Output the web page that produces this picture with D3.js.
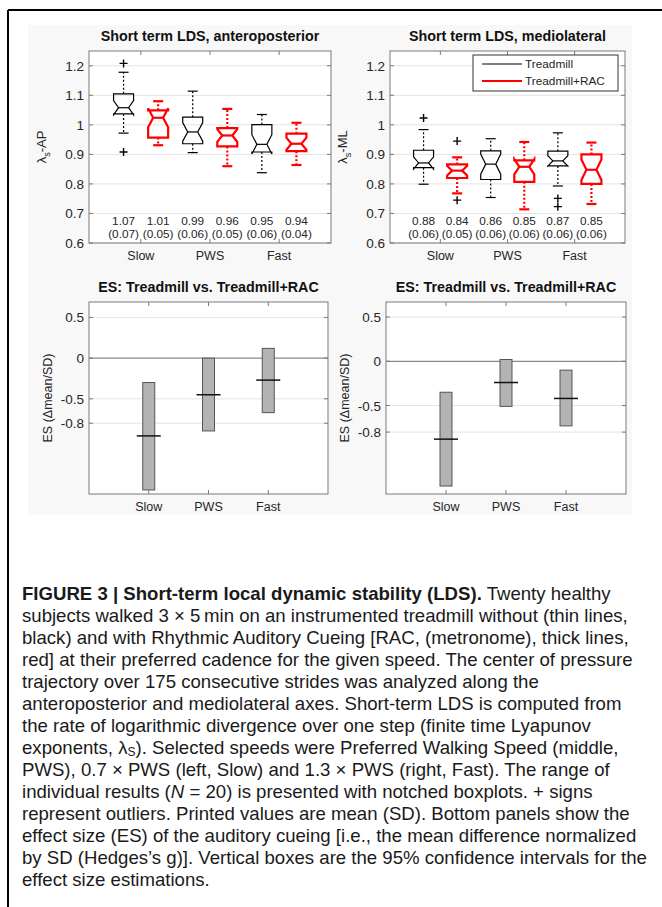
<!DOCTYPE html>
<html>
<head>
<meta charset="utf-8">
<script src="https://cdn.jsdelivr.net/npm/d3@7"></script>
<style>
  body { margin: 0; background: #fff; }
  text { font-family: "Liberation Sans", Arial, sans-serif; }
</style>
</head>
<body>
<script>
// speeds and conditions
var speeds = ["Slow", "PWS", "Fast"];
var conditions = ["Treadmill", "Treadmill+RAC"];

// boxplot stats per box: [lower whisker, q1, median, q3, upper whisker]
// order: Slow-T, Slow-RAC, PWS-T, PWS-RAC, Fast-T, Fast-RAC
var apBox = [
  [0.972, 1.037, 1.058, 1.105, 1.178],
  [0.931, 0.957, 1.024, 1.049, 1.080],
  [0.906, 0.936, 0.976, 1.026, 1.114],
  [0.860, 0.927, 0.964, 0.989, 1.054],
  [0.838, 0.908, 0.934, 1.001, 1.035],
  [0.864, 0.911, 0.936, 0.970, 1.007]
];
var apOutliers = [[1.208, 0.908], [], [], [], [], []];
var apMean = ["1.07", "1.01", "0.99", "0.96", "0.95", "0.94"];
var apSD = ["0.07", "0.05", "0.06", "0.05", "0.06", "0.04"];

var mlBox = [
  [0.799, 0.855, 0.871, 0.914, 0.984],
  [0.768, 0.820, 0.845, 0.866, 0.890],
  [0.754, 0.815, 0.867, 0.912, 0.953],
  [0.714, 0.807, 0.858, 0.880, 0.942],
  [0.793, 0.861, 0.878, 0.911, 0.973],
  [0.732, 0.800, 0.848, 0.900, 0.940]
];
var mlOutliers = [[1.023], [0.945, 0.745], [], [], [0.751, 0.723], []];
var mlMean = ["0.88", "0.84", "0.86", "0.85", "0.87", "0.85"];
var mlSD = ["0.06", "0.05", "0.06", "0.06", "0.06", "0.06"];

// effect size: [CI low, ES, CI high] per speed
var esAP = [[-1.62, -0.956, -0.30], [-0.895, -0.45, 0.0], [-0.67, -0.27, 0.12]];
var esML = [[-1.41, -0.88, -0.35], [-0.51, -0.24, 0.02], [-0.73, -0.42, -0.10]];

var lyapTicks = [0.6, 0.7, 0.8, 0.9, 1, 1.1, 1.2];
var esTicks = [0.5, 0, -0.5, -0.8];

var captionLines = [
  [["FIGURE 3 | Short-term local dynamic stability (LDS).", "b"], [" Twenty healthy"]],
  [["subjects walked 3 \u00d7 5\u2009min on an instrumented treadmill without (thin lines,"]],
  [["black) and with Rhythmic Auditory Cueing [RAC, (metronome), thick lines,"]],
  [["red] at their preferred cadence for the given speed. The center of pressure"]],
  [["trajectory over 175 consecutive strides was analyzed along the"]],
  [["anteroposterior and mediolateral axes. Short-term LDS is computed from"]],
  [["the rate of logarithmic divergence over one step (finite time Lyapunov"]],
  [["exponents, \u03bb"], ["S", "sub"], ["). Selected speeds were Preferred Walking Speed (middle,"]],
  [["PWS), 0.7 \u00d7 PWS (left, Slow) and 1.3 \u00d7 PWS (right, Fast). The range of"]],
  [["individual results ("], ["N", "i"], [" = 20) is presented with notched boxplots. + signs"]],
  [["represent outliers. Printed values are mean (SD). Bottom panels show the"]],
  [["effect size (ES) of the auditory cueing [i.e., the mean difference normalized"]],
  [["by SD (Hedges\u2019s g)]. Vertical boxes are the 95% confidence intervals for the"]],
  [["effect size estimations."]]
];

function init() {
  var W = 662, H = 907;
  var svg = d3.select("body").append("svg")
    .attr("width", W).attr("height", H);

  // frame (top and left rule)
  svg.append("line").attr("x1", 8).attr("x2", W).attr("y1", 10).attr("y2", 10)
    .attr("stroke", "#000").attr("stroke-width", 2);
  svg.append("line").attr("x1", 8).attr("x2", 8).attr("y1", 10).attr("y2", H)
    .attr("stroke", "#000").attr("stroke-width", 2);

  // figure background
  svg.append("rect").attr("x", 28).attr("y", 25).attr("width", 604).attr("height", 490)
    .attr("fill", "#f8f8f8");

  var textCol = "#262626";
  var boxCol = "#7a7a7a";

  function axesFrame(g, x0, x1, y0, y1, yScale, ticks, xTickVals, xScale, xLabels, title, zeroLine) {
    g.append("rect").attr("x", x0).attr("y", y0).attr("width", x1 - x0).attr("height", y1 - y0)
      .attr("fill", "#fff");
    // grid
    g.selectAll(".grid").data(ticks).enter().append("line")
      .attr("x1", x0).attr("x2", x1)
      .attr("y1", function(d) { return yScale(d); })
      .attr("y2", function(d) { return yScale(d); })
      .attr("stroke", function(d) { return (zeroLine && d === 0) ? "#8a8a8a" : "#e3e3e3"; })
      .attr("stroke-width", function(d) { return (zeroLine && d === 0) ? 1.2 : 1; });
    // box
    g.append("rect").attr("x", x0).attr("y", y0).attr("width", x1 - x0).attr("height", y1 - y0)
      .attr("fill", "none").attr("stroke", boxCol).attr("stroke-width", 1);
    // y ticks and labels
    var yt = g.selectAll(".ytick").data(ticks).enter().append("g");
    yt.append("line").attr("x1", x0).attr("x2", x0 + 4)
      .attr("y1", function(d) { return yScale(d); }).attr("y2", function(d) { return yScale(d); })
      .attr("stroke", boxCol);
    yt.append("line").attr("x1", x1).attr("x2", x1 - 4)
      .attr("y1", function(d) { return yScale(d); }).attr("y2", function(d) { return yScale(d); })
      .attr("stroke", boxCol);
    yt.append("text").attr("x", x0 - 5).attr("y", function(d) { return yScale(d) + 5; })
      .attr("text-anchor", "end").attr("font-size", 13.5).attr("fill", textCol)
      .text(function(d) { return d; });
    // x ticks
    var xt = g.selectAll(".xtick").data(xTickVals).enter().append("g");
    xt.append("line").attr("x1", function(d) { return xScale(d); }).attr("x2", function(d) { return xScale(d); })
      .attr("y1", y1).attr("y2", y1 - 4).attr("stroke", boxCol);
    xt.append("line").attr("x1", function(d) { return xScale(d); }).attr("x2", function(d) { return xScale(d); })
      .attr("y1", y0).attr("y2", y0 + 4).attr("stroke", boxCol);
    xt.append("text").attr("x", function(d) { return xScale(d); }).attr("y", y1 + 17)
      .attr("text-anchor", "middle").attr("font-size", 12.5).attr("fill", textCol)
      .text(function(d, i) { return xLabels[i]; });
    // title
    g.append("text").attr("x", (x0 + x1) / 2).attr("y", y0 - 10)
      .attr("text-anchor", "middle").attr("font-size", 14.3).attr("font-weight", "bold")
      .attr("fill", "#111").text(title);
    return g;
  }

  function boxPanel(x0, x1, boxes, outliers, means, sds, title, ylab, showLegend) {
    var y0 = 51, y1 = 243;
    var x = d3.scaleLinear().domain([0, 7]).range([x0, x1]);
    var y = d3.scaleLinear().domain([0.6, 1.25]).range([y1, y0]);
    var g = svg.append("g");
    axesFrame(g, x0, x1, y0, y1, y, lyapTicks, [1.5, 3.5, 5.5], x, speeds, title, false);

    // y label with subscript
    var lx = x0 - 43, ly = (y0 + y1) / 2;
    var yl = g.append("text").attr("transform", "translate(" + lx + "," + ly + ") rotate(-90)")
      .attr("text-anchor", "middle").attr("font-size", 13).attr("fill", textCol);
    yl.append("tspan").text("\u03bb");
    yl.append("tspan").attr("font-size", 9).attr("dy", 4).text("s");
    yl.append("tspan").attr("dy", -4).text("-" + ylab);

    var bw = 20;
    boxes.forEach(function(b, i) {
      var cx = x(i + 1);
      var red = i % 2 === 1;
      var col = red ? "#ff0000" : "#000";
      var sw = red ? 2.2 : 1.2;
      var lo = b[0], q1 = b[1], med = b[2], q3 = b[3], hi = b[4];
      var nd = 1.57 * (q3 - q1) / Math.sqrt(20);
      var nLo = med - nd, nHi = med + nd;
      var L = cx - bw / 2, R = cx + bw / 2;
      var pts = [[L, y(q3)], [L, y(nHi)], [cx - bw / 4, y(med)], [L, y(nLo)], [L, y(q1)],
                 [R, y(q1)], [R, y(nLo)], [cx + bw / 4, y(med)], [R, y(nHi)], [R, y(q3)]];
      // whiskers
      g.append("line").attr("x1", cx).attr("x2", cx).attr("y1", y(q3)).attr("y2", y(hi))
        .attr("stroke", col).attr("stroke-width", sw).attr("stroke-dasharray", "2,2");
      g.append("line").attr("x1", cx).attr("x2", cx).attr("y1", y(q1)).attr("y2", y(lo))
        .attr("stroke", col).attr("stroke-width", sw).attr("stroke-dasharray", "2,2");
      [lo, hi].forEach(function(v) {
        g.append("line").attr("x1", cx - bw / 4).attr("x2", cx + bw / 4)
          .attr("y1", y(v)).attr("y2", y(v)).attr("stroke", col).attr("stroke-width", sw);
      });
      g.append("polygon").attr("points", pts.map(function(p) { return p.join(","); }).join(" "))
        .attr("fill", "none").attr("stroke", col).attr("stroke-width", sw)
        .attr("stroke-linejoin", "miter");
      g.append("line").attr("x1", cx - bw / 4).attr("x2", cx + bw / 4)
        .attr("y1", y(med)).attr("y2", y(med)).attr("stroke", col).attr("stroke-width", sw);
      outliers[i].forEach(function(v) {
        g.append("path").attr("d", "M" + (cx - 4) + "," + y(v) + "H" + (cx + 4) +
          "M" + cx + "," + (y(v) - 4) + "V" + (y(v) + 4))
          .attr("stroke", "#000").attr("stroke-width", 1.4).attr("fill", "none");
      });
      g.append("text").attr("x", cx).attr("y", 225).attr("text-anchor", "middle")
        .attr("font-size", 11.8).attr("fill", textCol).text(means[i]);
      g.append("text").attr("x", cx).attr("y", 237.5).attr("text-anchor", "middle")
        .attr("font-size", 11.8).attr("fill", textCol).text("(" + sds[i] + ")");
    });

    if (showLegend) {
      var lg = g.append("g");
      lg.append("rect").attr("x", 473).attr("y", 55).attr("width", 145).attr("height", 36)
        .attr("fill", "#fff").attr("stroke", "#333").attr("stroke-width", 1);
      conditions.forEach(function(c, i) {
        var yy = 64 + i * 17;
        lg.append("line").attr("x1", 482).attr("x2", 522).attr("y1", yy).attr("y2", yy)
          .attr("stroke", i ? "#ff0000" : "#000").attr("stroke-width", i ? 2.2 : 1.2);
        lg.append("text").attr("x", 525).attr("y", yy + 4).attr("font-size", 11.8)
          .attr("fill", textCol).text(c);
      });
    }
  }

  function esPanel(x0, x1, yDom, data, title) {
    var y0 = 302, y1 = 494;
    var x = d3.scaleLinear().domain([0, 4]).range([x0, x1]);
    var y = d3.scaleLinear().domain(yDom).range([y1, y0]);
    var g = svg.append("g");
    axesFrame(g, x0, x1, y0, y1, y, esTicks, [1, 2, 3], x, speeds, title, true);
    g.append("text").attr("transform", "translate(" + (x0 - 37) + "," + ((y0 + y1) / 2) + ") rotate(-90)")
      .attr("text-anchor", "middle").attr("font-size", 12.5).attr("fill", textCol)
      .text("ES (\u0394mean/SD)");
    var bw = 12;
    g.selectAll(".ci").data(data).enter().append("rect")
      .attr("x", function(d, i) { return x(i + 1) - bw / 2; })
      .attr("y", function(d) { return y(d[2]); })
      .attr("width", bw)
      .attr("height", function(d) { return y(d[0]) - y(d[2]); })
      .attr("fill", "#b3b3b3").attr("stroke", "#555").attr("stroke-width", 1);
    g.selectAll(".es").data(data).enter().append("line")
      .attr("x1", function(d, i) { return x(i + 1) - 12; })
      .attr("x2", function(d, i) { return x(i + 1) + 12; })
      .attr("y1", function(d) { return y(d[1]); })
      .attr("y2", function(d) { return y(d[1]); })
      .attr("stroke", "#111").attr("stroke-width", 1.5);
  }

  boxPanel(89, 331, apBox, apOutliers, apMean, apSD, "Short term LDS, anteroposterior", "AP", false);
  boxPanel(390, 625, mlBox, mlOutliers, mlMean, mlSD, "Short term LDS, mediolateral", "ML", true);
  esPanel(89, 328, [-1.67, 0.69], esAP, "ES: Treadmill vs. Treadmill+RAC");
  esPanel(386, 626, [-1.5, 0.67], esML, "ES: Treadmill vs. Treadmill+RAC");

  // caption
  var cap = svg.append("g");
  captionLines.forEach(function(line, i) {
    var t = cap.append("text").attr("x", 22).attr("y", 600 + i * 22)
      .attr("font-size", 18.6).attr("fill", "#1a1a1a");
    line.forEach(function(seg) {
      var ts = t.append("tspan").text(seg[0]);
      if (seg[1] === "b") ts.attr("font-weight", "bold");
      if (seg[1] === "i") ts.attr("font-style", "italic");
      if (seg[1] === "sub") ts.attr("font-size", 12).attr("baseline-shift", "-2");
    });
  });
}
window.onload = init;
</script>
</body>
</html>
